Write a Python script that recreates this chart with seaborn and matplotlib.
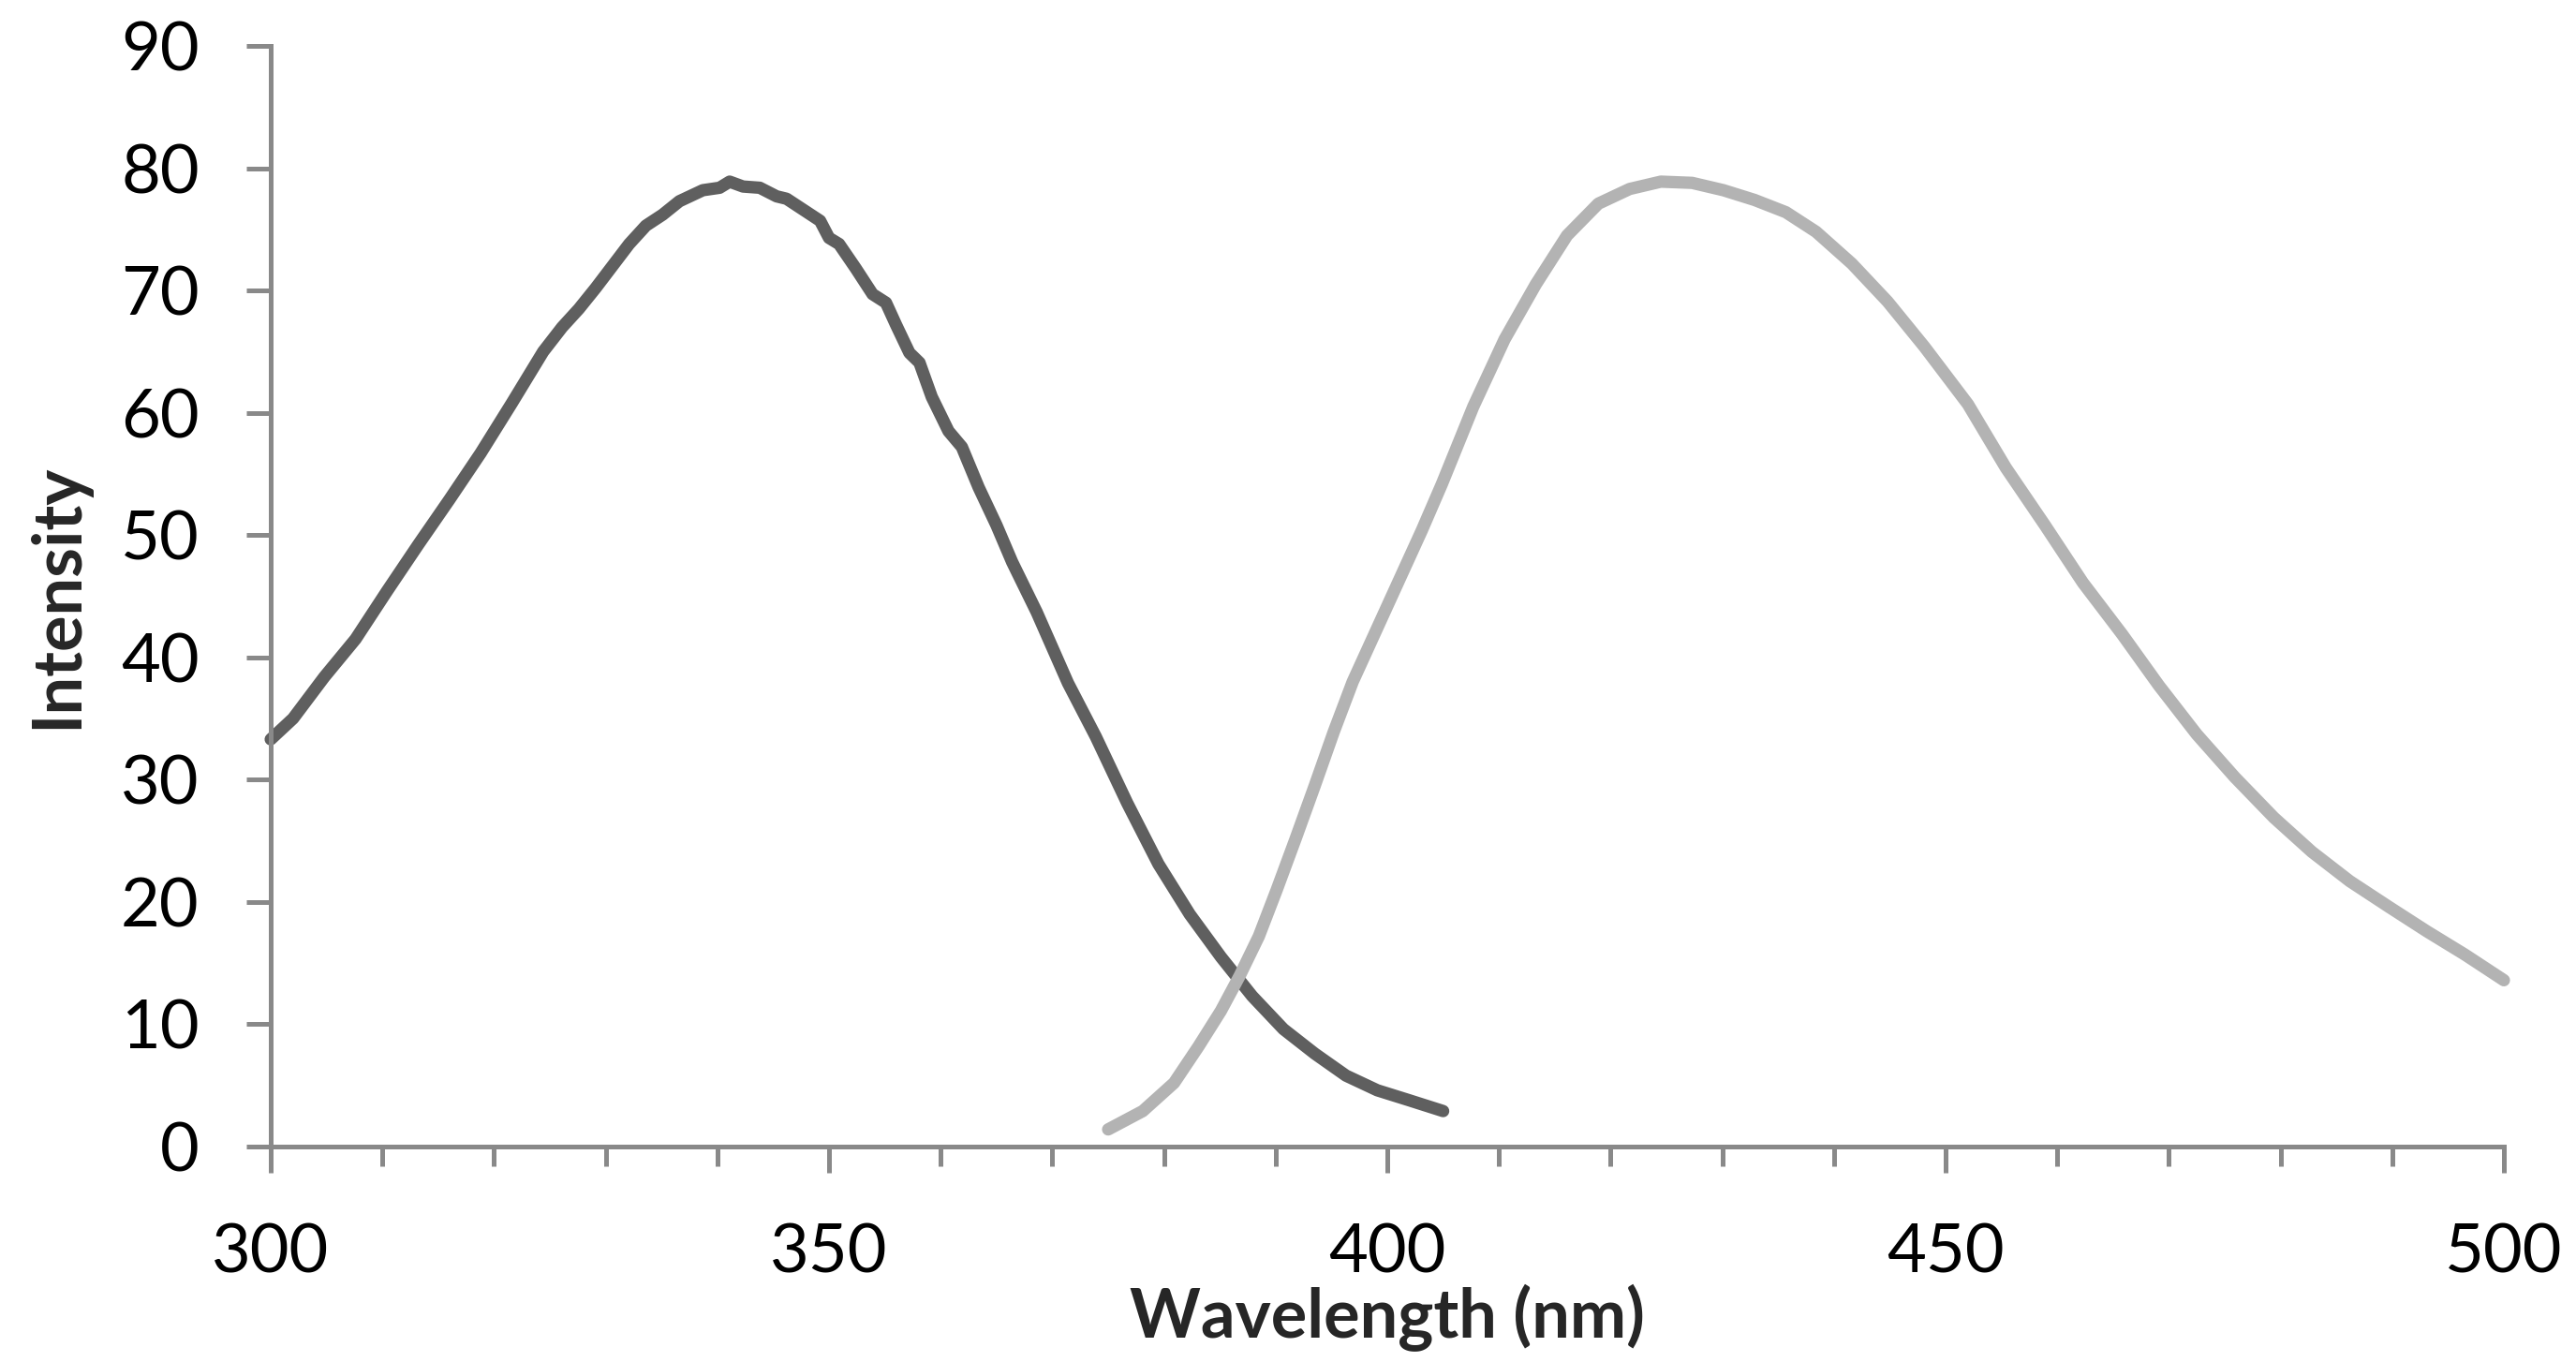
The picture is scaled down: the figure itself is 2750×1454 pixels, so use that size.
"""Excitation / emission spectra, redrawn with seaborn."""

import matplotlib
matplotlib.use("Agg")
import pandas as pd
import matplotlib.pyplot as plt
from matplotlib.ticker import MultipleLocator
import seaborn as sns

# excitation spectrum (dark curve)
EX_WL = [300.0, 302.0, 304.8, 307.6, 310.4, 313.2, 316.0, 318.8, 321.6, 324.4,
         326.1, 327.6, 329.1, 330.6, 332.1, 333.6, 335.1, 336.6, 338.7, 340.2,
         341.1, 342.3, 343.8, 345.3, 346.2, 347.7, 349.2, 350.0, 350.9, 352.4,
         353.9, 355.1, 356.0, 357.2, 358.1, 359.2, 360.7, 361.9, 363.4, 365.0,
         366.4, 368.6, 371.4, 373.9, 376.7, 379.5, 382.3, 385.1, 387.9, 390.7,
         393.5, 396.3, 399.1, 401.9, 405.0]
EX_INT = [33.3, 35.0, 38.4, 41.5, 45.4, 49.2, 52.9, 56.7, 60.8, 65.0,
          67.0, 68.5, 70.2, 72.0, 73.8, 75.3, 76.2, 77.3, 78.2, 78.4,
          78.9, 78.5, 78.4, 77.7, 77.5, 76.6, 75.7, 74.3, 73.8, 71.8,
          69.7, 69.0, 67.2, 64.9, 64.1, 61.3, 58.5, 57.2, 53.9, 50.8,
          47.8, 43.7, 37.9, 33.5, 28.1, 23.1, 19.0, 15.5, 12.3, 9.6,
          7.6, 5.8, 4.6, 3.8, 2.9]

# emission spectrum (light curve)
EM_WL = [375.0, 378.1, 380.9, 383.1, 385.1, 386.8, 388.5, 390.1, 391.8, 393.5,
         395.2, 396.9, 399.1, 401.0, 403.1, 404.9, 407.7, 410.5, 413.3, 416.1,
         418.9, 421.7, 424.5, 427.3, 430.1, 432.9, 435.7, 438.4, 441.6, 444.8,
         448.1, 452.0, 455.4, 458.9, 462.3, 465.8, 469.1, 472.5, 475.9, 479.4,
         482.8, 486.2, 489.7, 493.1, 496.5, 500.0]
EM_INT = [1.4, 2.9, 5.2, 8.2, 11.1, 14.0, 17.2, 21.0, 25.2, 29.5,
          33.9, 38.0, 42.4, 46.2, 50.4, 54.2, 60.5, 66.0, 70.5, 74.5,
          77.1, 78.3, 78.9, 78.8, 78.2, 77.4, 76.4, 74.8, 72.2, 69.1,
          65.4, 60.7, 55.5, 50.8, 46.1, 41.9, 37.7, 33.7, 30.2, 26.9,
          24.1, 21.7, 19.6, 17.6, 15.7, 13.6]

DARK = "#5f5f5f"
LIGHT = "#b3b3b3"
AXIS = "#898989"

sns.set_theme(style="white")
plt.rcParams["font.family"] = ["Lato", "DejaVu Sans"]

fig = plt.figure(figsize=(27.5, 14.54), dpi=100)
ax = fig.add_axes([0.1051, 0.1582, 0.8669, 0.8081])

ex = pd.DataFrame({"wl": EX_WL, "intensity": EX_INT})
em = pd.DataFrame({"wl": EM_WL, "intensity": EM_INT})

for df, col in [(ex, DARK), (em, LIGHT)]:
    sns.lineplot(data=df, x="wl", y="intensity", ax=ax, color=col,
                 lw=9.5, solid_capstyle="round", solid_joinstyle="round",
                 clip_on=False)

ax.set_xlim(300, 500)
ax.set_ylim(0, 90)
ax.xaxis.set_major_locator(MultipleLocator(50))
ax.xaxis.set_minor_locator(MultipleLocator(10))
ax.yaxis.set_major_locator(MultipleLocator(10))

for s in ["top", "right"]:
    ax.spines[s].set_visible(False)
for s in ["left", "bottom"]:
    ax.spines[s].set_color(AXIS)
    ax.spines[s].set_linewidth(3.6)

ax.tick_params(axis="both", which="both", direction="out", color=AXIS,
               width=3.6, labelsize=52, labelcolor="black")
ax.tick_params(axis="y", which="major", left=True, length=19, pad=36)
ax.tick_params(axis="x", which="major", bottom=True, length=20, pad=39)
ax.tick_params(axis="x", which="minor", bottom=True, length=15)

ax.set_xlabel("Wavelength (nm)", fontsize=52, fontweight="bold", labelpad=0)
ax.set_ylabel("Intensity", fontsize=52, fontweight="bold", labelpad=24)

fig.savefig("out.png", dpi=100)
